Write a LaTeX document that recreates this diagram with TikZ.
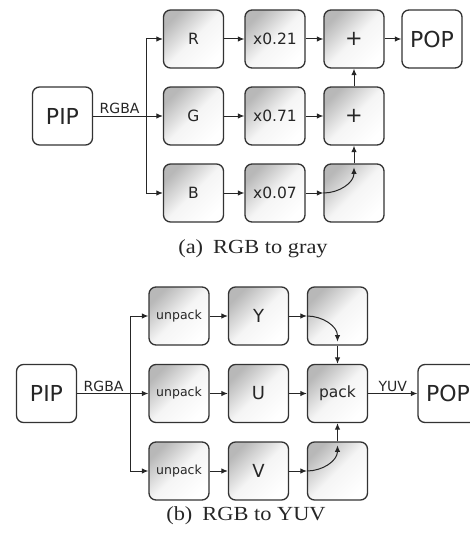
\documentclass[tikz,border=0pt]{standalone}
\usepackage{fontspec}
\newfontfamily\boxfont{DejaVu Sans}
\newfontfamily\capfont[FakeStretch=1.12]{Liberation Serif}
\usetikzlibrary{arrows.meta,calc}

\tikzset{
  box/.style={draw=black!80, line width=1.3pt, rounded corners=7pt,
    minimum width=60pt, minimum height=58pt, inner sep=0pt,
    text=black!85, font=\boxfont\fontsize{15.5}{18}\selectfont},
  blk/.style={box, top color=black!28, bottom color=white, middle color=black!4,
    shading angle=45},
  io/.style={box, fill=white, font=\boxfont\fontsize{22}{26}\selectfont},
  small/.style={font=\boxfont\fontsize{12.5}{15}\selectfont},
  big/.style={font=\boxfont\fontsize{18}{20}\selectfont},
  plus/.style={font=\boxfont\fontsize{21}{24}\selectfont},
  lbl/.style={above, inner sep=1.5pt, text=black!85,
    font=\boxfont\fontsize{14}{16}\selectfont},
  captext/.style={text=black!85, font=\capfont\fontsize{20}{24}\selectfont},
  line/.style={line width=1pt, draw=black!85},
  wire/.style={line, -{Latex[length=6.5pt,width=5.5pt]}},
}

\begin{document}
\begin{tikzpicture}[x=1pt,y=-1pt]
    \useasboundingbox (0,0) rectangle (470,535);

    \node[io]  (pipA) at (62.5,116) {PIP};
    \node[blk] (r)  at (193.5,39)  {R};
    \node[blk] (g)  at (193.5,116) {G};
    \node[blk] (b)  at (193.5,193) {B};
    \node[blk] (m1) at (275,39)  {x0.21};
    \node[blk] (m2) at (275,116) {x0.71};
    \node[blk] (m3) at (275,193) {x0.07};
    \node[blk, plus] (s1) at (354,39)  {+};
    \node[blk, plus] (s2) at (354,116) {+};
    \node[blk] (s3) at (354,193) {};
    \node[io]  (popA) at (432,39) {POP};
    \coordinate (splitA) at (146,116);

    \draw[line] (pipA.east) -- node[lbl] {RGBA} (splitA);
    \draw[wire] (splitA) |- (r);
    \draw[wire] (splitA) -- (g);
    \draw[wire] (splitA) |- (b);
    \draw[wire] (r) -- (m1);
    \draw[wire] (g) -- (m2);
    \draw[wire] (b) -- (m3);
    \draw[wire] (m1) -- (s1);
    \draw[wire] (m2) -- (s2);
    \draw[wire] (m3) -- (s3);
    \draw[wire] (s3.west) to[out=0,in=-90] ([yshift=-4pt]s3.north);
    \draw[wire] (s3.north) -- (s2.south);
    \draw[wire] (s2.north) -- (s1.south);
    \draw[wire] (s1) -- (popA);

    \node[captext] (capA) at (253,249) {(a)\enspace RGB to gray};

    \node[io]  (pipB) at (46.5,393.5) {PIP};
    \node[blk, small] (u1) at (179,316)   {unpack};
    \node[blk, small] (u2) at (179,393.5) {unpack};
    \node[blk, small] (u3) at (179,471)   {unpack};
    \node[blk, big] (y) at (258.5,316)   {Y};
    \node[blk, big] (u) at (258.5,393.5) {U};
    \node[blk, big] (v) at (258.5,471)   {V};
    \node[blk] (c1) at (337.5,316)   {};
    \node[blk] (pk) at (337.5,393.5) {pack};
    \node[blk] (c3) at (337.5,471)   {};
    \node[io]  (popB) at (448,393.5) {POP};
    \coordinate (splitB) at (130,393.5);

    \draw[line] (pipB.east) -- node[lbl] {RGBA} (splitB);
    \draw[wire] (splitB) |- (u1);
    \draw[wire] (splitB) -- (u2);
    \draw[wire] (splitB) |- (u3);
    \draw[wire] (u1) -- (y);
    \draw[wire] (u2) -- (u);
    \draw[wire] (u3) -- (v);
    \draw[wire] (y) -- (c1);
    \draw[wire] (u) -- (pk);
    \draw[wire] (v) -- (c3);
    \draw[wire] (c1.west) to[out=0,in=90] ([yshift=4pt]c1.south);
    \draw[wire] (c1.south) -- (pk.north);
    \draw[wire] (c3.west) to[out=0,in=-90] ([yshift=-4pt]c3.north);
    \draw[wire] (c3.north) -- (pk.south);
    \draw[wire] (pk) -- node[lbl] {YUV} (popB);

    \node[captext] (capB) at (246,516) {(b)\enspace RGB to YUV};
\end{tikzpicture}
\end{document}
